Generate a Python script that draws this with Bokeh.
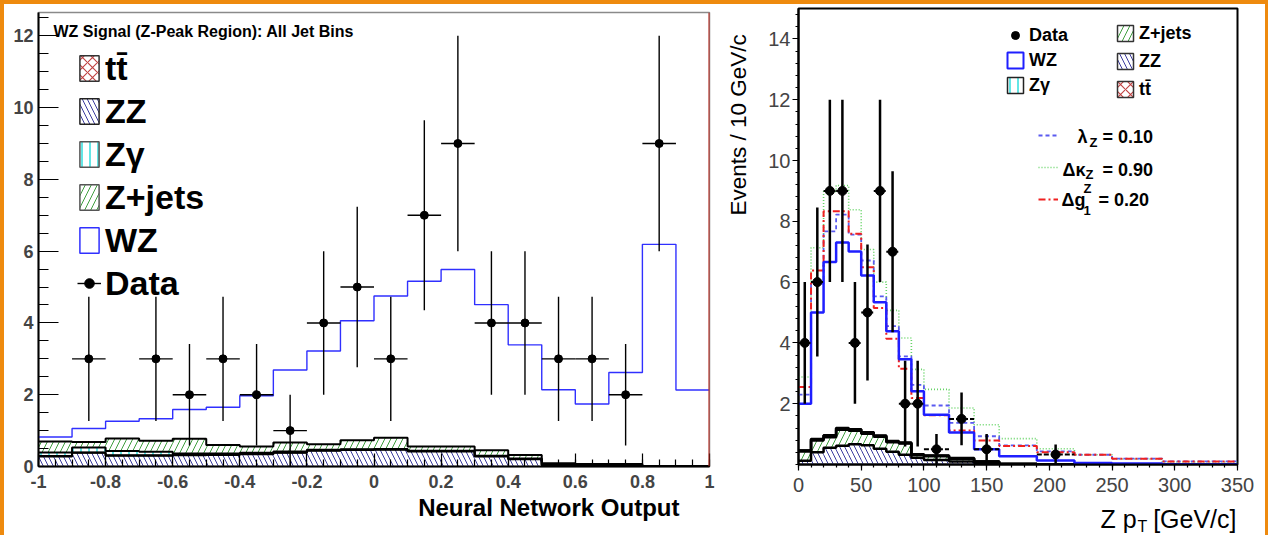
import numpy as np
from bokeh.plotting import figure
from bokeh.models import (ColumnDataSource, Label, Legend, LegendItem, Span,
                          FixedTicker, SingleIntervalTicker, CustomJSTickFormatter)
from bokeh.layouts import row, column
from bokeh.embed import file_html
from bokeh.resources import INLINE

FONT = "Liberation Sans"

# ---------------- Left panel: neural network output ----------------
nn_edges = [-1.0, -0.9, -0.8, -0.7, -0.6, -0.5, -0.4, -0.3, -0.2, -0.1, 0.0,
            0.1, 0.2, 0.3, 0.4, 0.5, 0.6, 0.7, 0.8, 0.9, 1.0]
nn_wz = [0.82, 1.06, 1.26, 1.33, 1.59, 1.65, 1.97, 2.69, 3.22, 4.06,
         4.75, 5.16, 5.49, 4.51, 3.39, 2.14, 1.74, 2.62, 6.19, 2.13]
nn_zz = [0.28, 0.38, 0.30, 0.30, 0.31, 0.32, 0.34, 0.38, 0.44, 0.46,
         0.47, 0.42, 0.42, 0.28, 0.20, 0.05, 0.03, 0.03, 0.01, 0.01]
nn_ttbar = [0.01, 0.01, 0.01, 0.01, 0.01, 0.01, 0.01, 0.01, 0.01, 0.01,
            0.01, 0.01, 0.01, 0.01, 0.01, 0.0, 0.0, 0.0, 0.0, 0.0]
nn_zgamma = [0.10, 0.14, 0.12, 0.10, 0.04, 0.03, 0.03, 0.03, 0.02, 0.01,
             0.01, 0.01, 0.01, 0.01, 0.01, 0.0, 0.0, 0.0, 0.0, 0.0]
nn_zjets = [0.31, 0.15, 0.35, 0.31, 0.41, 0.24, 0.18, 0.25, 0.15, 0.25,
            0.31, 0.12, 0.12, 0.15, 0.10, 0.04, 0.04, 0.04, 0.0, 0.0]
nn_data_x = [-0.85, -0.65, -0.55, -0.45, -0.35, -0.25, -0.15, -0.05, 0.05,
             0.15, 0.25, 0.35, 0.45, 0.55, 0.65, 0.75, 0.85]
nn_data = [3, 3, 2, 3, 2, 1, 4, 5, 3, 7, 9, 4, 4, 3, 3, 2, 9]
nn_halfwidth = 0.05

# ---------------- Right panel: Z pT ----------------
pt_edges = [0, 10, 20, 30, 40, 50, 60, 70, 80, 90, 100, 120, 140, 160, 190, 220, 250, 290, 350]
pt_wz = [2.00, 5.00, 6.66, 7.30, 7.01, 6.22, 5.34, 4.38, 3.46, 2.41,
         1.64, 1.05, 0.50, 0.27, 0.13, 0.05, 0.03, 0.01]
pt_lambda = [2.30, 5.95, 7.67, 8.22, 7.56, 6.71, 5.53, 4.55, 3.56, 2.62,
             1.94, 1.37, 0.93, 0.63, 0.43, 0.32, 0.19, 0.10]
pt_kappa = [2.88, 7.13, 8.98, 9.18, 8.38, 7.07, 6.00, 5.07, 4.16, 3.13,
            2.47, 1.86, 1.31, 0.85, 0.52, 0.32, 0.18, 0.08]
pt_g1 = [2.55, 6.38, 8.33, 8.33, 7.59, 6.49, 5.15, 4.14, 3.15, 2.19,
         1.62, 1.12, 0.79, 0.61, 0.40, 0.32, 0.19, 0.10]
pt_zz = [0.12, 0.40, 0.55, 0.62, 0.67, 0.63, 0.52, 0.42, 0.32, 0.22,
         0.15, 0.10, 0.05, 0.02, 0.01, 0.0, 0.0, 0.0]
pt_zjets = [0.31, 0.39, 0.35, 0.52, 0.44, 0.38, 0.39, 0.31, 0.37, 0.09,
            0.12, 0.09, 0.04, 0.0, 0.0, 0.0, 0.0, 0.0]
pt_zgamma = [0.03, 0.04, 0.05, 0.05, 0.04, 0.04, 0.03, 0.03, 0.02, 0.02,
             0.02, 0.01, 0.01, 0.0, 0.0, 0.0, 0.0, 0.0]
pt_ttbar = [0.0, 0.01, 0.01, 0.01, 0.01, 0.01, 0.01, 0.01, 0.01, 0.01,
            0.01, 0.01, 0.0, 0.0, 0.0, 0.0, 0.0, 0.0]
pt_data_x = [5, 15, 25, 35, 45, 55, 65, 75, 85, 95, 110, 130, 150, 205]
pt_data = [4, 6, 9, 9, 4, 5, 9, 7, 2, 2, 0.5, 1.5, 0.5, 0.33]
pt_data_err = [2.0, 2.45, 3.0, 3.0, 2.0, 2.24, 3.0, 2.65, 1.41, 1.41, 0.5, 0.87, 0.5, 0.33]
pt_data_halfwidth = [5, 5, 5, 5, 5, 5, 5, 5, 5, 5, 10, 10, 10, 15]

# ---------------- styles ----------------
HATCH = {
    "ZZ": dict(hatch_pattern="\\", hatch_color="#3b3b9e", hatch_scale=10, hatch_weight=1),
    "tt": dict(hatch_pattern="x", hatch_color="#c04040", hatch_scale=10, hatch_weight=1.1),
    "Zg": dict(hatch_pattern="|", hatch_color="#30dede", hatch_scale=8, hatch_weight=1.5),
    "Zj": dict(hatch_pattern="/", hatch_color="#3e9e3e", hatch_scale=12, hatch_weight=1),
}
NAN = float("nan")


def step_y(vals):
    v = list(vals)
    return v + [v[-1]]


def draw_stack(p, edges, layers, outline_w):
    lo, hi = edges[:-1], edges[1:]
    cum = np.zeros(len(lo))
    tops = []
    for key, vals in layers:
        b = cum.copy()
        cum = cum + np.asarray(vals, float)
        p.quad(left=lo, right=hi, bottom=list(b), top=list(cum), fill_color=None,
               line_color=None, **HATCH[key])
        tops.append(cum.copy())
    for t in tops:
        p.step(x=edges, y=step_y(t), mode="after", line_color="black", line_width=outline_w)


def add_label(p, x, y, text, size, bold=False, align="left", angle=0.0):
    p.add_layout(Label(x=x, y=y, x_units="screen", y_units="screen", text=text,
                       text_font=FONT, text_font_size=f"{size}px",
                       text_font_style="bold" if bold else "normal",
                       text_align=align, text_baseline="alphabetic", angle=angle,
                       text_color="black"))


def dummy_box(p, line_color="#222222", line_width=1.5, **hatch):
    # legend-only swatch: a single NaN quad never appears in the plot area
    return p.quad(left=[NAN], right=[NAN], bottom=[NAN], top=[NAN], fill_color=None,
                  line_color=line_color, line_width=line_width, **hatch)


def text_panel(w, h, margin=0):
    t = figure(width=w, height=h, x_range=(0, 1), y_range=(0, 1), output_backend="svg",
               toolbar_location=None, x_axis_location=None, y_axis_location=None,
               min_border=0, title=None, margin=margin)
    t.grid.visible = False
    t.outline_line_color = None
    t.background_fill_alpha = 0
    t.border_fill_alpha = 0
    return t


# ================= LEFT FIGURE =================
p1 = figure(frame_width=671, frame_height=454, x_range=(-1, 1), y_range=(0, 12.65),
            output_backend="svg", toolbar_location=None, title=None,
            min_border_left=34, min_border_right=11, min_border_top=8, min_border_bottom=46)
p1.grid.visible = False
p1.outline_line_color = "#8a8a8a"
p1.outline_line_width = 1.5
p1.background_fill_color = "white"
p1.border_fill_color = "white"

draw_stack(p1, nn_edges, [("ZZ", nn_zz), ("tt", nn_ttbar), ("Zg", nn_zgamma), ("Zj", nn_zjets)], 2)
p1.step(x=nn_edges, y=step_y(nn_wz), mode="after", line_color="#3030ff", line_width=1.4)

nn_err = np.sqrt(np.asarray(nn_data, float))
src1 = ColumnDataSource(dict(x=nn_data_x, y=nn_data,
                             lo=list(np.asarray(nn_data) - nn_err), hi=list(np.asarray(nn_data) + nn_err),
                             xl=[v - nn_halfwidth for v in nn_data_x], xr=[v + nn_halfwidth for v in nn_data_x]))
p1.segment(x0="x", y0="lo", x1="x", y1="hi", source=src1, line_color="black", line_width=1.4)
hseg1 = p1.segment(x0="xl", y0="y", x1="xr", y1="y", source=src1, line_color="black", line_width=1.4)
dots1 = p1.scatter("x", "y", source=src1, size=8, color="black")

p1.add_layout(Span(location=1, dimension="height", line_color="#c0281e", line_width=2))

p1.xaxis.ticker = SingleIntervalTicker(interval=0.2, num_minor_ticks=4)
p1.xaxis.formatter = CustomJSTickFormatter(code="return Number(tick.toFixed(2)).toString();")
p1.yaxis.ticker = SingleIntervalTicker(interval=2, num_minor_ticks=4)
for ax in p1.axis:
    ax.axis_line_width = 2
    ax.axis_line_color = "black"
    ax.major_label_text_font = FONT
    ax.major_label_text_font_style = "bold"
    ax.major_label_text_font_size = "18px"
    ax.major_tick_out = 0
    ax.minor_tick_out = 0
    ax.major_tick_line_width = 1.2
    ax.minor_tick_line_width = 1.2
p1.yaxis.major_tick_in = 20
p1.yaxis.minor_tick_in = 10
p1.yaxis.major_label_standoff = 5
p1.xaxis.major_tick_in = 13
p1.xaxis.minor_tick_in = 7
p1.xaxis.major_label_standoff = 8

lg_tt = dummy_box(p1, line_color="#333333", **HATCH["tt"])
lg_zz = dummy_box(p1, **HATCH["ZZ"])
lg_zg = dummy_box(p1, line_color="#555555", **HATCH["Zg"])
lg_zj = dummy_box(p1, line_color="#555555", **HATCH["Zj"])
lg_wz = dummy_box(p1, line_color="#3030ff", line_width=1.5)
leg1 = Legend(items=[
    LegendItem(label="tt\u0304", renderers=[lg_tt]),
    LegendItem(label="ZZ", renderers=[lg_zz]),
    LegendItem(label="Z\u03b3", renderers=[lg_zg]),
    LegendItem(label="Z+jets", renderers=[lg_zj]),
    LegendItem(label="WZ", renderers=[lg_wz]),
    LegendItem(label="Data", renderers=[hseg1, dots1]),
], location=(39, 163), padding=0, spacing=3, glyph_width=24, glyph_height=32,
    label_height=40, label_standoff=4, label_text_font=FONT, label_text_font_size="34px",
    label_text_font_style="bold", label_text_color="black",
    border_line_alpha=0, background_fill_alpha=0)
p1.add_layout(leg1)

# frame-relative label (frame left page x=38, bottom page y=466)
add_label(p1, 53 - 38, 466 - 31, "WZ Signal (Z-Peak Region): All Jet Bins", 16, bold=True)

# transparent text strip pulled up under the left plot (frame aligned with p1's: left at x=38)
p1b = text_panel(716, 57, margin=(-34, 0, 0, 0))
add_label(p1b, 679 - 38, 28, "Neural Network Output", 24, bold=True, align="right")

left_col = column(p1, p1b, spacing=0)

# ================= RIGHT FIGURE =================
p2 = figure(frame_width=439, frame_height=456, x_range=(0, 350), y_range=(0, 15),
            output_backend="svg", toolbar_location=None, title=None,
            min_border_left=43, min_border_right=28, min_border_top=4, min_border_bottom=50)
p2.grid.visible = False
p2.outline_line_color = "black"
p2.outline_line_width = 2
p2.background_fill_color = "white"
p2.border_fill_color = "white"

draw_stack(p2, pt_edges, [("ZZ", pt_zz), ("Zj", pt_zjets), ("Zg", pt_zgamma), ("tt", pt_ttbar)], 2.5)
l_kappa = p2.step(x=pt_edges, y=step_y(pt_kappa), mode="after", line_color="#66d466",
                  line_width=1.6, line_dash="1 2")
l_lambda = p2.step(x=pt_edges, y=step_y(pt_lambda), mode="after", line_color="#5a5af0",
                   line_width=1.8, line_dash="4 3")
l_g1 = p2.step(x=pt_edges, y=step_y(pt_g1), mode="after", line_color="#f02020",
               line_width=2, line_dash="7 3 2 3")
p2.step(x=pt_edges, y=step_y(pt_wz), mode="after", line_color="#1f1fff", line_width=2.5)

src2 = ColumnDataSource(dict(
    x=pt_data_x, y=pt_data,
    lo=[max(a - e, 0) for a, e in zip(pt_data, pt_data_err)],
    hi=[a + e for a, e in zip(pt_data, pt_data_err)],
    xl=[a - w for a, w in zip(pt_data_x, pt_data_halfwidth)],
    xr=[a + w for a, w in zip(pt_data_x, pt_data_halfwidth)]))
p2.segment(x0="x", y0="lo", x1="x", y1="hi", source=src2, line_color="black", line_width=2.5)
p2.segment(x0="xl", y0="y", x1="xr", y1="y", source=src2, line_color="black", line_width=2,
           line_dash="5 2")
dots2 = p2.scatter("x", "y", source=src2, size=9, color="black")

p2.xaxis.ticker = SingleIntervalTicker(interval=50, num_minor_ticks=5)
p2.yaxis.ticker = FixedTicker(ticks=[2, 4, 6, 8, 10, 12, 14],
                              minor_ticks=list(np.round(np.arange(0, 15.01, 0.4), 2)))
for ax in p2.axis:
    ax.axis_line_width = 2
    ax.axis_line_color = "black"
    ax.major_label_text_font = FONT
    ax.major_label_text_font_size = "20px"
    ax.major_tick_in = 0
    ax.minor_tick_in = 0
    ax.major_tick_out = 6
    ax.minor_tick_out = 3
    ax.major_tick_line_width = 1.2
    ax.minor_tick_line_width = 1.2
p2.yaxis.major_label_standoff = 2
p2.xaxis.major_label_standoff = 7

r_wz = dummy_box(p2, line_color="#1f1fff", line_width=2)
r_zg = dummy_box(p2, line_color="#222222", **HATCH["Zg"])
r_zj = dummy_box(p2, line_color="#333333", **HATCH["Zj"])
r_zz = dummy_box(p2, line_color="#333333", **HATCH["ZZ"])
r_tt = dummy_box(p2, line_color="#333333", **HATCH["tt"])

common = dict(padding=0, label_standoff=4, label_text_font=FONT, label_text_font_size="18px",
              label_text_font_style="bold", label_text_color="black",
              border_line_alpha=0, background_fill_alpha=0, glyph_width=20)
leg2a = Legend(items=[LegendItem(label="Data", renderers=[dots2]),
                      LegendItem(label="WZ", renderers=[r_wz]),
                      LegendItem(label="Z\u03b3", renderers=[r_zg])],
               location=(207, 368), spacing=3, glyph_height=20, label_height=22, **common)
leg2b = Legend(items=[LegendItem(label="Z+jets", renderers=[r_zj]),
                      LegendItem(label="ZZ", renderers=[r_zz]),
                      LegendItem(label="tt\u0304", renderers=[r_tt])],
               location=(317, 364), spacing=6, glyph_height=20, label_height=22, **common)
leg2c = Legend(items=[LegendItem(label=" ", renderers=[l_lambda]),
                      LegendItem(label=" ", renderers=[l_kappa]),
                      LegendItem(label=" ", renderers=[l_g1])],
               location=(240, 251), spacing=4, glyph_height=28, label_height=28, **common)
for lg in (leg2a, leg2b, leg2c):
    p2.add_layout(lg)

# aTGC labels, frame-relative (frame left page x=798, bottom page y=464)
FL2, FB2 = 798, 464
atgc = [
    (1077, 136, "\u03bb", 18), (1089, 142, "Z", 13), (1102, 136, "= 0.10", 18),
    (1062, 169, "\u0394\u03ba", 18), (1085, 174, "Z", 13), (1102, 169, "= 0.90", 18),
    (1061, 199, "\u0394g", 18), (1083, 188, "Z", 13), (1083, 210, "1", 13), (1098, 199, "= 0.20", 18),
]
for px, py, t, s in atgc:
    add_label(p2, px - FL2, FB2 - py, t, s, bold=True)

# transparent text strip pulled up under the right plot (frame aligned with p2's: left at x=798)
p2b = text_panel(510, 55, margin=(-34, 0, 0, 0))
add_label(p2b, 1100 - FL2, 17, "Z p", 25)
add_label(p2b, 1137 - FL2, 9, "T", 16)
add_label(p2b, 1236 - FL2, 17, "[GeV/c]", 25, align="right")

p2y = text_panel(35, 531)
add_label(p2y, 18, 535 - 215, "Events / 10 GeV/c", 22.5, angle=np.pi / 2)

right_col = column(p2, p2b, spacing=0)
inner = row(left_col, p2y, right_col, spacing=0, margin=(4, 3, 0, 4),
            styles={"background-color": "white"})
layout = row(inner, styles={"background-color": "#ee8a0e"})
open("out.html", "w").write(file_html(layout, INLINE))
